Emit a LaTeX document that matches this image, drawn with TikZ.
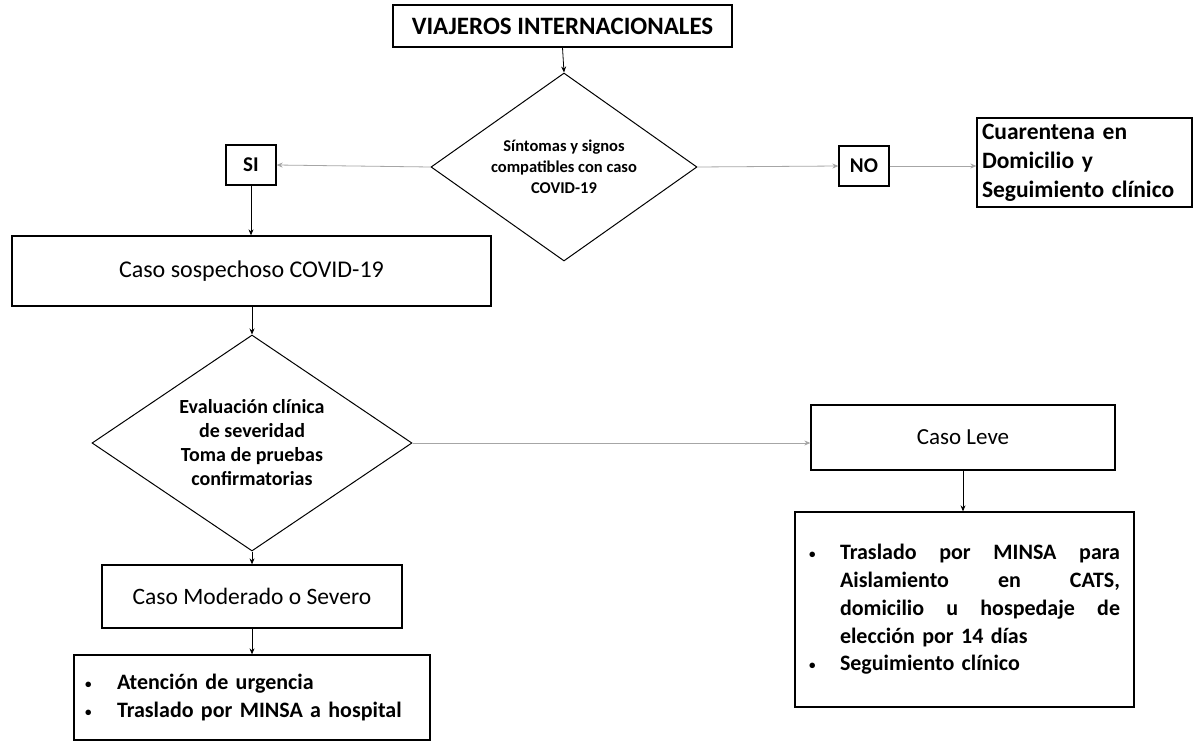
\documentclass[tikz,border=0pt]{standalone}
\usepackage{fontspec}
\setmainfont{Carlito}
\usetikzlibrary{shapes.geometric,arrows.meta}
\newcommand{\mybul}{{\fontsize{13}{13}\selectfont\raisebox{1pt}{\textbullet}}}
\begin{document}
\begin{tikzpicture}[x=1pt,y=-1pt,
 box/.style={draw,line width=1.3pt,rectangle,inner sep=0pt},
 dec/.style={draw,line width=1pt,diamond,inner sep=0pt},
 dectext/.style={align=center,font=\bfseries\fontsize{#1}{#1*1.25}\selectfont},
 varrow/.style={-{Stealth[length=6pt,width=5pt]},line width=0.8pt},
 harrow/.style={-{Stealth[length=6pt,width=5pt]},line width=0.8pt,draw=gray!70}]
\useasboundingbox (0,0) rectangle (1193,749);
\fill[white] (0,0) rectangle (1193,749);

\node[box,minimum width=339pt,minimum height=42pt,font=\bfseries\fontsize{25}{28}\selectfont] (title) at (562.5,26) {VIAJEROS INTERNACIONALES};

\node[dec,minimum width=266pt,minimum height=188pt,
  label={[align=center,font=\bfseries\fontsize{16.5}{21}\selectfont]center:Síntomas y signos\\compatibles con caso\\COVID-19}] (d1) at (564,167) {};

\node[box,minimum width=50pt,minimum height=40pt,font=\bfseries\fontsize{21}{24}\selectfont] (si) at (251,165) {SI};
\node[box,minimum width=50pt,minimum height=40pt,font=\bfseries\fontsize{21}{24}\selectfont] (no) at (864,166) {NO};

\node[box,minimum height=89pt,text width=205pt,inner xsep=5pt,align=left,font=\bfseries\fontsize{23.5}{29}\selectfont] (cuar) at (1084.5,162.5) {Cuarentena en\\Domicilio y\\Seguimiento clínico};

\node[box,minimum width=479pt,minimum height=70pt,font=\fontsize{24}{26}\selectfont] (sosp) at (251.5,271) {Caso sospechoso COVID-19};

\node[dec,minimum width=320pt,minimum height=216pt,
  label={[align=center,font=\bfseries\fontsize{20}{24}\selectfont]center:Evaluación clínica\\de severidad\\Toma de pruebas\\confirmatorias}] (d2) at (252,443) {};

\node[box,minimum width=300pt,minimum height=63pt,font=\fontsize{23.5}{26}\selectfont] (mod) at (252,596.5) {Caso Moderado o Severo};

\node[box,minimum height=85pt,text width=334pt,inner xsep=11pt,align=left,font=\bfseries\fontsize{22}{28}\selectfont] (lista1) at (252,697.5) {\makebox[32pt][l]{\mybul}Atención de urgencia\\\makebox[32pt][l]{\mybul}Traslado por MINSA a hospital};

\node[box,minimum width=304pt,minimum height=65pt,font=\fontsize{23}{26}\selectfont] (leve) at (963,437.5) {Caso Leve};

\node[box,minimum height=195pt,text width=311pt,inner xsep=14pt,align=left,font=\bfseries\fontsize{22}{27.75}\selectfont] (lista2) at (964.5,609.5) {\makebox[31pt][l]{\mybul}\makebox[280pt][l]{Traslado\hfill por\hfill MINSA\hfill para}\\\hspace*{31pt}\makebox[280pt][l]{Aislamiento\hfill en\hfill CATS,}\\\hspace*{31pt}\makebox[280pt][l]{domicilio\hfill u\hfill hospedaje\hfill de}\\\hspace*{31pt}elección por 14 días\\\makebox[31pt][l]{\mybul}Seguimiento clínico};

\draw[varrow] (title.south) -- (d1.north);
\draw[harrow] (d1.west) -- (si.east);
\draw[harrow] (d1.east) -- (no.west);
\draw[harrow] (no.east) -- (no.east -| cuar.west);
\draw[varrow] (si.south) -- (si.south |- sosp.north);
\draw[varrow] (d2.north |- sosp.south) -- (d2.north);
\draw[harrow] (d2.east) -- (d2.east -| leve.west);
\draw[varrow] (leve.south) -- (leve.south |- lista2.north);
\draw[varrow] (d2.south) -- (mod.north);
\draw[varrow] (mod.south) -- (lista1.north);
\end{tikzpicture}
\end{document}
